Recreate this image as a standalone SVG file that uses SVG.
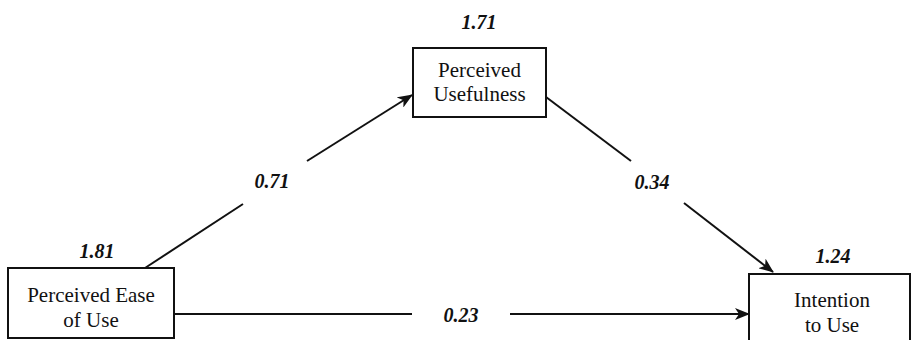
<svg xmlns="http://www.w3.org/2000/svg" width="913" height="340" viewBox="0 0 913 340">
<style>
.box{fill:#fff;stroke:#111;stroke-width:2}
.lbl{font-size:21px;fill:#111;text-anchor:middle}
.num{font-size:20px;font-weight:bold;font-style:italic;fill:#111;text-anchor:middle}
.ln{fill:none;stroke:#111;stroke-width:2}
</style>
<defs>
<marker id="arr" markerUnits="userSpaceOnUse" markerWidth="16" markerHeight="12" refX="14" refY="6" orient="auto">
<path d="M0,0 L15,6 L0,12 L4,6 z" fill="#111"/>
</marker>
</defs>
<rect width="913" height="340" fill="#fff"/>
<g font-family="Liberation Serif, Times New Roman, Times, serif">
<g id="connectors">
<path class="ln" d="M145,268 L243,204"/>
<path class="ln" d="M307,161 L412,95" marker-end="url(#arr)"/>
<path class="ln" d="M546,97 L631,161"/>
<path class="ln" d="M684,203 L773,272" marker-end="url(#arr)"/>
<path class="ln" d="M174,314 L412,314"/>
<path class="ln" d="M510,314 L749,314" marker-end="url(#arr)"/>
<text class="num" x="272" y="188">0.71</text>
<text class="num" x="652" y="189">0.34</text>
<text class="num" x="461" y="322">0.23</text>
</g>
<g id="peou">
<rect class="box" x="8" y="268" width="166" height="70"/>
<text class="lbl" x="91" y="302">Perceived Ease</text>
<text class="lbl" x="91" y="327">of Use</text>
<text class="num" x="97" y="258">1.81</text>
</g>
<g id="pu">
<rect class="box" x="413" y="48" width="133" height="69"/>
<text class="lbl" x="479.5" y="77">Perceived</text>
<text class="lbl" x="479.5" y="101">Usefulness</text>
<text class="num" x="479" y="29">1.71</text>
</g>
<g id="itu">
<rect class="box" x="749" y="274" width="161" height="80"/>
<text class="lbl" x="832" y="307">Intention</text>
<text class="lbl" x="832" y="332">to Use</text>
<text class="num" x="833" y="263">1.24</text>
</g>
</g>
</svg>
